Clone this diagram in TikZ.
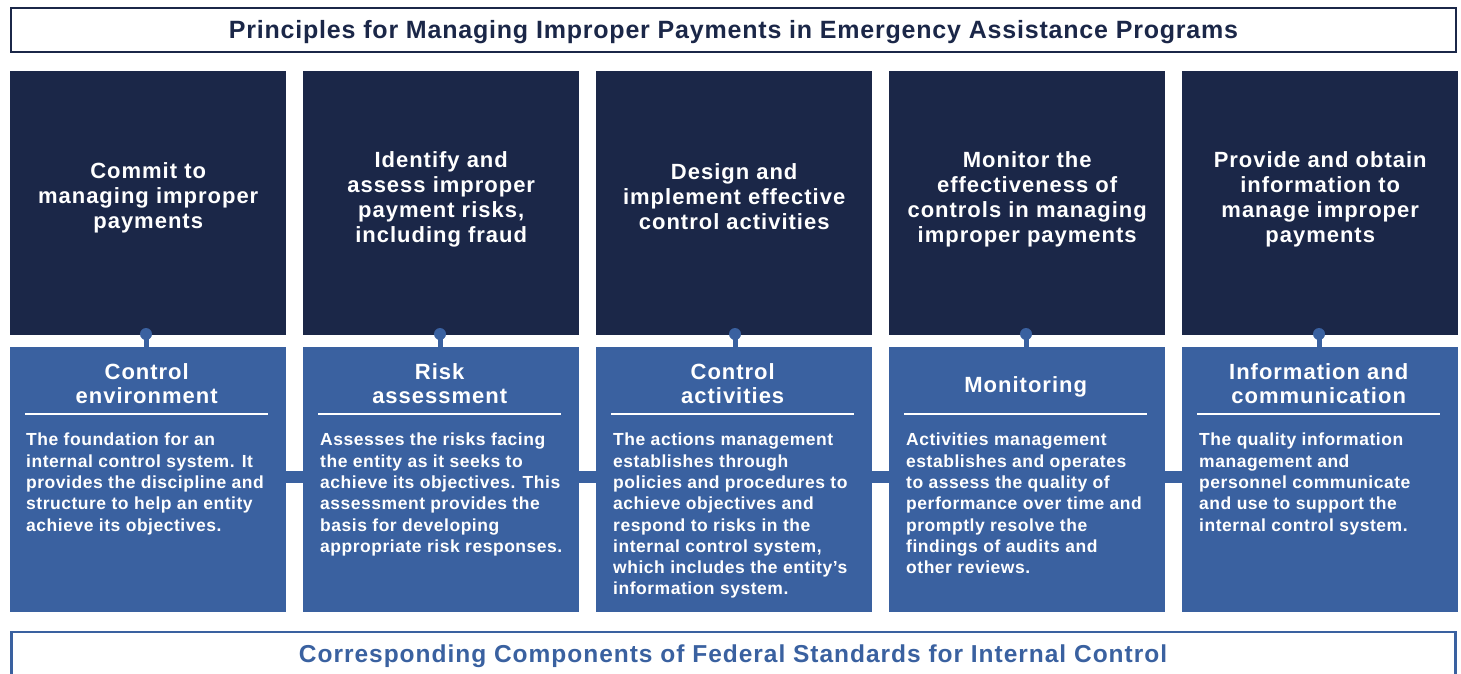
\documentclass[tikz,border=0pt]{standalone}
\usepackage{fontspec}
\setmainfont{Liberation Sans}
\definecolor{navy}{HTML}{1B2748}
\definecolor{midblue}{HTML}{3A61A0}
\begin{document}
\begin{tikzpicture}[x=1pt,y=-1pt,
  darkbox/.style={fill=navy, draw=none, anchor=north west, minimum width=276pt, minimum height=264pt, inner sep=0pt},
  bluebox/.style={fill=midblue, draw=none, anchor=north west, minimum width=276pt, minimum height=265pt, inner sep=0pt},
  darktext/.style={text=white, font=\fontsize{22}{25}\selectfont\bfseries\addfontfeatures{LetterSpace=4.5}, align=center, inner sep=0pt},
  bluehead/.style={text=white, font=\fontsize{22}{24}\selectfont\bfseries\addfontfeatures{LetterSpace=4.5}, align=center, inner sep=0pt},
  bodytext/.style={text=white, font=\fontsize{17.5}{21.3}\selectfont\bfseries\addfontfeatures{LetterSpace=3}, align=left, anchor=north west, inner sep=0pt},
  pin/.style={circle, fill=midblue, minimum size=12pt, inner sep=0pt},
  stem/.style={draw=midblue, line width=5pt},
  hbar/.style={draw=midblue, line width=12pt},
  uline/.style={draw=white, line width=2pt}
]
\useasboundingbox (0,0) rectangle (1461,673);

% title
\node[draw=navy, line width=2.5pt, minimum width=1445pt, minimum height=44pt, inner sep=0pt] (title) at (733.5,30)
  {};
\node[text=navy, font=\fontsize{25}{27}\selectfont\bfseries\addfontfeatures{LetterSpace=3.2}, inner sep=0pt, anchor=base] (titletext) at (733.5,38)
  {Principles for Managing Improper Payments in Emergency Assistance Programs};

% bottom box
\node[draw=midblue, line width=2.5pt, minimum width=1444pt, minimum height=70pt, inner sep=0pt] (bottom) at (733.5,667) {};
\node[text=midblue, font=\fontsize{24.5}{27}\selectfont\bfseries\addfontfeatures{LetterSpace=4}, inner sep=0pt, anchor=base] (bottomtext) at (733,662)
  {Corresponding Components of Federal Standards for Internal Control};

% dark and blue boxes
\foreach \i/\x in {1/10,2/303,3/596,4/889,5/1182}{
  \node[darkbox] (d\i) at (\x,71) {};
  \node[bluebox] (b\i) at (\x,347) {};
}

\node[darktext] (dt1) at ([yshift=5pt]d1.center) {Commit to\\managing improper\\payments};
\node[darktext] (dt2) at ([yshift=4pt]d2.center) {Identify and\\assess improper\\payment risks,\\including fraud};
\node[darktext] (dt3) at ([yshift=7pt]d3.center) {Design and\\implement effective\\control activities};
\node[darktext] (dt4) at ([yshift=4pt]d4.center) {Monitor the\\effectiveness of\\controls in managing\\improper payments};
\node[darktext] (dt5) at ([yshift=4pt]d5.center) {Provide and obtain\\information to\\manage improper\\payments};

% pins and stems
\foreach \i/\x in {1/146,2/440,3/735,4/1026,5/1319}{
  \node[pin] (p\i) at (\x,334) {};
  \draw[stem] (p\i.center) -- (p\i.center |- b\i.north);
}

% horizontal bars
\foreach \i/\j in {1/2,2/3,3/4,4/5}{
  \draw[hbar] ([yshift=2.5pt]b\i.east) -- ([yshift=2.5pt]b\j.west);
}

% blue headings and underlines
\foreach \i in {1,...,5}{
  \draw[uline] ([xshift=15pt,yshift=-67pt]b\i.north west) -- ([xshift=258pt,yshift=-67pt]b\i.north west);
}
\node[bluehead] (bh1) at ([xshift=-1.5pt,yshift=-37pt]b1.north) {Control\\environment};
\node[bluehead] (bh2) at ([xshift=-1.5pt,yshift=-37pt]b2.north) {Risk\\assessment};
\node[bluehead] (bh3) at ([xshift=-1.5pt,yshift=-37pt]b3.north) {Control\\activities};
\node[bluehead] (bh4) at ([xshift=-1.5pt,yshift=-40pt]b4.north) {Monitoring};
\node[bluehead] (bh5) at ([xshift=-1.5pt,yshift=-37pt]b5.north) {Information and\\communication};

% body texts
\node[bodytext] (bt1) at ([xshift=16pt,yshift=-86pt]b1.north west)
  {The foundation for an\\internal control system. It\\provides the discipline and\\structure to help an entity\\achieve its objectives.};
\node[bodytext] (bt2) at ([xshift=17pt,yshift=-86pt]b2.north west)
  {Assesses the risks facing\\the entity as it seeks to\\achieve its objectives. This\\assessment provides the\\basis for developing\\appropriate risk responses.};
\node[bodytext] (bt3) at ([xshift=17pt,yshift=-86pt]b3.north west)
  {The actions management\\establishes through\\policies and procedures to\\achieve objectives and\\respond to risks in the\\internal control system,\\which includes the entity’s\\information system.};
\node[bodytext] (bt4) at ([xshift=17pt,yshift=-86pt]b4.north west)
  {Activities management\\establishes and operates\\to assess the quality of\\performance over time and\\promptly resolve the\\findings of audits and\\other reviews.};
\node[bodytext] (bt5) at ([xshift=17pt,yshift=-86pt]b5.north west)
  {The quality information\\management and\\personnel communicate\\and use to support the\\internal control system.};
\end{tikzpicture}
\end{document}
